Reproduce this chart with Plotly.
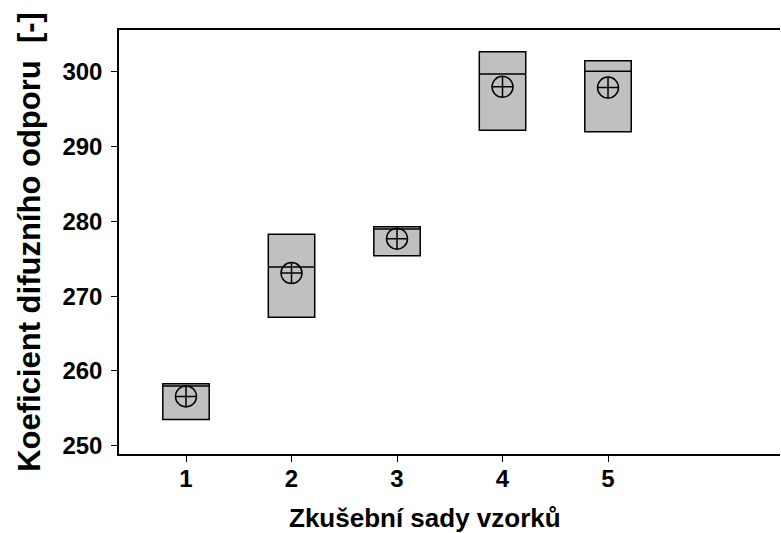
import plotly.graph_objects as go

groups = [1, 2, 3, 4, 5]
q1 = [253.5, 267.2, 275.4, 292.2, 292.0]
q3 = [258.3, 278.3, 279.3, 302.7, 301.5]
median = [258.0, 273.9, 279.0, 299.7, 300.1]
mean = [256.6, 273.1, 277.7, 298.0, 297.9]
y_ticks = [250, 260, 270, 280, 290, 300]
x_title = "Zkušební sady vzorků"
y_title = "Koeficient difuzního odporu  [-]"

fig = go.Figure()
for i, g in enumerate(groups):
    fig.add_trace(go.Box(
        x=[g], q1=[q1[i]], q3=[q3[i]], median=[median[i]],
        lowerfence=[q1[i]], upperfence=[q3[i]],
        width=0.44, fillcolor="#c0c0c0",
        line=dict(color="black", width=1.5),
        whiskerwidth=0, showlegend=False, hoverinfo="skip",
    ))
fig.add_trace(go.Scatter(
    x=groups, y=mean, mode="markers", showlegend=False, hoverinfo="skip",
    marker=dict(symbol="circle-cross-open", size=21, color="black",
                line=dict(color="black", width=1.5)),
))

font = "Liberation Sans, Arial, sans-serif"
fig.update_layout(
    width=781, height=533,
    margin=dict(l=119, r=1, t=30, b=79),
    paper_bgcolor="white", plot_bgcolor="white",
    font=dict(family=font, color="black"),
)
fig.add_annotation(
    text=f"<b>{x_title}</b>", xref="paper", yref="paper",
    x=0.463, y=0, xanchor="center", yanchor="middle", yshift=-64,
    showarrow=False, font=dict(size=26, color="black"),
)
fig.update_xaxes(
    range=[0.365, 6.63], tickvals=groups, ticktext=[f"<b>{g}</b>" for g in groups],
    ticks="outside", ticklen=6, tickwidth=1, tickcolor="black",
    showline=True, linecolor="black", linewidth=1.5, mirror=True,
    showgrid=False, zeroline=False, tickfont=dict(size=24), ticklabelstandoff=-4,
)
fig.update_yaxes(
    range=[248.9, 305.6], tickvals=y_ticks, ticktext=[f"<b>{t}</b>" for t in y_ticks],
    ticks="outside", ticklen=6, tickwidth=1, tickcolor="black",
    showline=True, linecolor="black", linewidth=1.5, mirror=False,
    showgrid=False, zeroline=False, tickfont=dict(size=24), ticklabelstandoff=4,
    title=dict(text=f"<b>{y_title}</b>", font=dict(size=31), standoff=13),
)
fig.write_html(
    "out.html",
    config={"displayModeBar": False},
    post_script="document.body.style.margin='0';document.body.style.overflow='hidden';",
)
